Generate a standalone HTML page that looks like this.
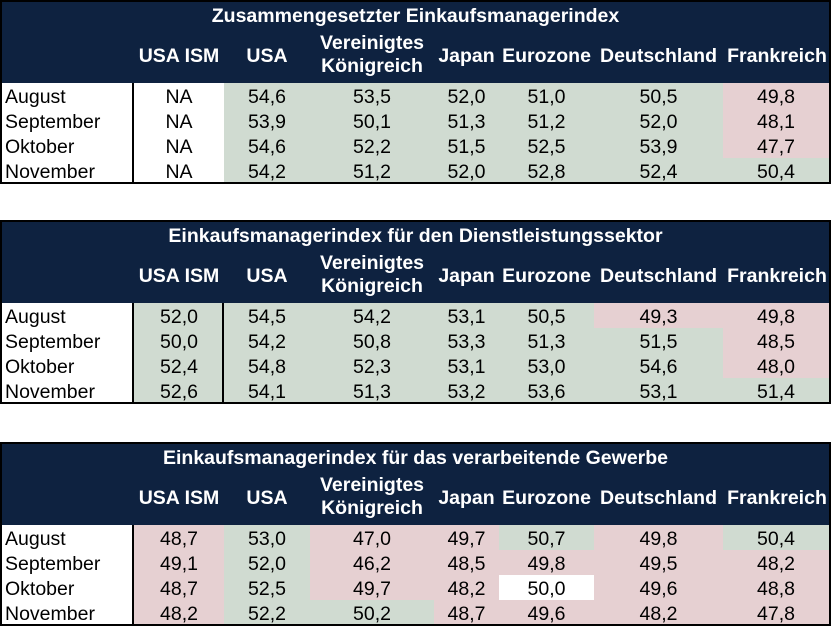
<!DOCTYPE html>
<html><head><meta charset="utf-8">
<style>
body{margin:0;width:831px;height:625px;background:#fff;overflow:hidden;font-family:"Liberation Sans",Arial,sans-serif;position:relative}
.tbl{position:absolute;left:0;width:827px;height:180px;border:2px solid #000;background:#fff}
.hd{position:absolute;left:0;top:0;width:827px;height:81px;background:#0e2240}
.title{position:absolute;left:0;top:3px;width:827px;text-align:center;color:#fff;font-weight:bold;font-size:19.5px}
.ch{position:absolute;color:#fff;font-weight:bold;font-size:19.5px;text-align:center;line-height:23px;white-space:nowrap}
.cell{position:absolute;height:23px;padding-top:2px;line-height:25px;font-size:19.5px;text-align:center;color:#000;overflow:hidden}
.mon{position:absolute;left:3px;height:23px;padding-top:2px;line-height:25px;font-size:19.5px;color:#000}
.vl{position:absolute;top:81px;width:2px;height:99px;background:#000}
</style></head><body>
<script>
const titles=["Zusammengesetzter Einkaufsmanagerindex","Einkaufsmanagerindex für den Dienstleistungssektor","Einkaufsmanagerindex für das verarbeitende Gewerbe"];
const countries=["USA ISM","USA","Vereinigtes Königreich","Japan","Eurozone","Deutschland","Frankreich"];
const months=["August","September","Oktober","November"];
const composite=[["NA","54,6","53,5","52,0","51,0","50,5","49,8"],["NA","53,9","50,1","51,3","51,2","52,0","48,1"],["NA","54,6","52,2","51,5","52,5","53,9","47,7"],["NA","54,2","51,2","52,0","52,8","52,4","50,4"]];
const services=[["52,0","54,5","54,2","53,1","50,5","49,3","49,8"],["50,0","54,2","50,8","53,3","51,3","51,5","48,5"],["52,4","54,8","52,3","53,1","53,0","54,6","48,0"],["52,6","54,1","51,3","53,2","53,6","53,1","51,4"]];
const manufacturing=[["48,7","53,0","47,0","49,7","50,7","49,8","50,4"],["49,1","52,0","46,2","48,5","49,8","49,5","48,2"],["48,7","52,5","49,7","48,2","50,0","49,6","48,8"],["48,2","52,2","50,2","48,7","49,6","48,2","47,8"]];
const tables=[composite,services,manufacturing];
const tops=[0,220,442];
const colL=[132,222,308,432,497,592,721,829];
const GREEN="#d0dbd1",PINK="#e6d0d2";
function cellColor(t,r,c,v){
  if(v==="NA")return "#fff";
  if(t===2&&c===4&&r===2)return "#fff";
  return parseFloat(v.replace(",","."))<50?PINK:GREEN;
}
tables.forEach((data,t)=>{
  const tb=document.createElement('div');tb.className='tbl';tb.style.top=tops[t]+'px';
  
  
  document.body.appendChild(tb);
  const hd=document.createElement('div');hd.className='hd';
  
  
  tb.appendChild(hd);
  const ti=document.createElement('div');ti.className='title';ti.textContent=titles[t];
  
  
  hd.appendChild(ti);
  countries.forEach((c,i)=>{
    const h=document.createElement('div');h.className='ch';
    h.style.left=colL[i]+'px';h.style.width=(colL[i+1]-colL[i])+'px';
    if(i===2){h.innerHTML='Vereinigtes<br>Königreich';h.style.top='30px';}
    else{h.textContent=c;h.style.top='43px';}
    
    
    hd.appendChild(h);
  });
  months.forEach((m,r)=>{
    const y=81+r*25;
    const md=document.createElement('div');md.className='mon';md.style.top=y+'px';md.textContent=m;
    
    
    tb.appendChild(md);
    data[r].forEach((v,c)=>{
      const d=document.createElement('div');d.className='cell';
      d.style.top=y+'px';d.style.left=colL[c]+'px';d.style.width=(colL[c+1]-colL[c]-(c===6?2:0))+'px';
      if(r===3)d.style.height='22px';
      d.style.background=cellColor(t,r,c,v);d.textContent=v;
      
      
      tb.appendChild(d);
    });
  });
  const lines=t===1?[130,220]:[130];
  lines.forEach(x=>{
    const l=document.createElement('div');l.className='vl';l.style.left=x+'px';
    
    
    tb.appendChild(l);
  });
});
</script>
</body></html>
